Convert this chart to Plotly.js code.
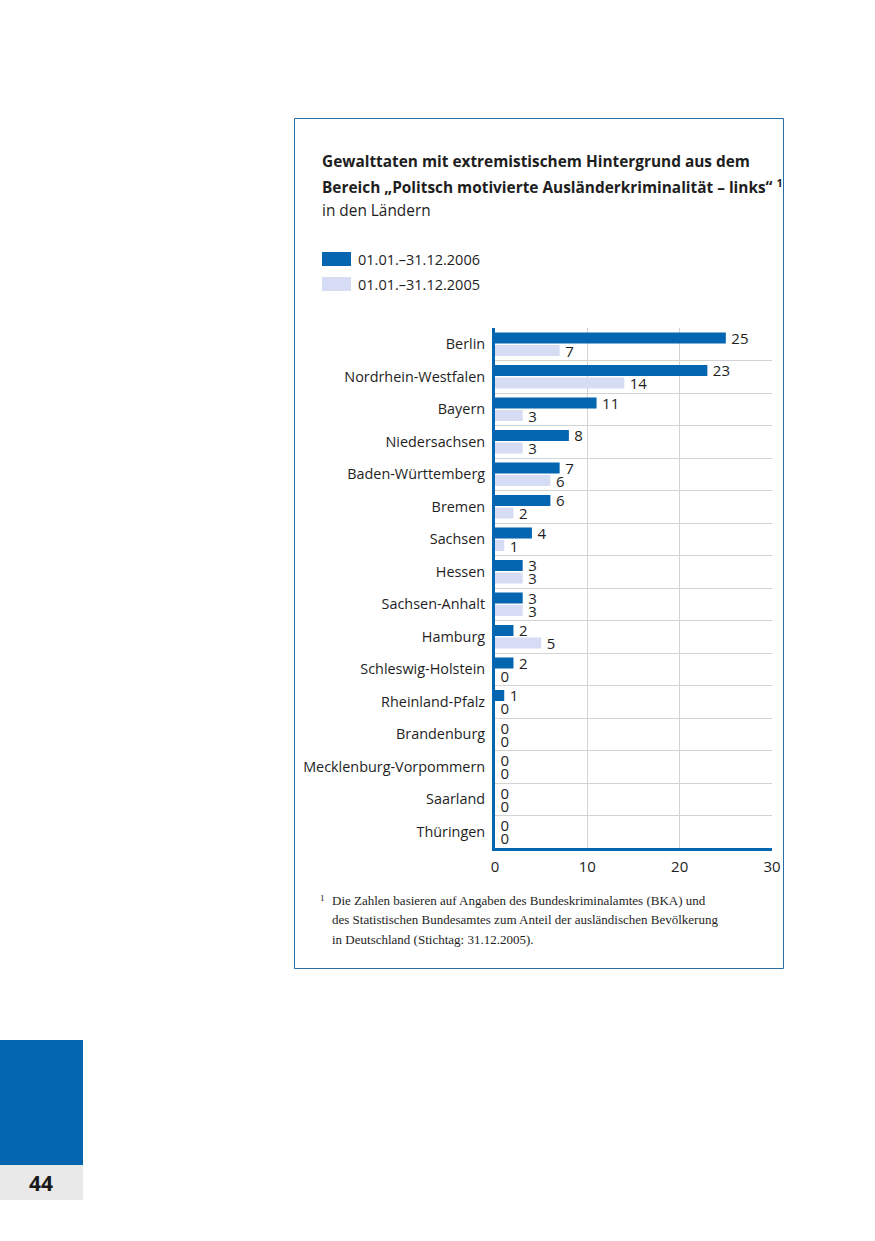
<!DOCTYPE html>
<html><head><meta charset="utf-8">
<script src="https://cdn.plot.ly/plotly-3.0.1.min.js"></script>
<style>html,body{margin:0;padding:0;background:#fff;}#chart{width:875px;height:1241px;}</style>
</head><body><div id="chart"></div>
<script>
const states = ["Berlin","Nordrhein-Westfalen","Bayern","Niedersachsen","Baden-Württemberg","Bremen","Sachsen","Hessen","Sachsen-Anhalt","Hamburg","Schleswig-Holstein","Rheinland-Pfalz","Brandenburg","Mecklenburg-Vorpommern","Saarland","Thüringen"];
const values2006 = [25,23,11,8,7,6,4,3,3,2,2,1,0,0,0,0];
const values2005 = [7,14,3,3,6,2,1,3,3,5,0,0,0,0,0,0];
const seriesNames = ["01.01.–31.12.2006","01.01.–31.12.2005"];
const xTicks = [0,10,20,30];
const titleLines = ["<b>Gewalttaten mit extremistischem Hintergrund aus dem</b>","<b>Bereich „Politsch motivierte Ausländerkriminalität – links“ <sup>1</sup></b>","in den Ländern"];
const footnoteLines = ["Die Zahlen basieren auf Angaben des Bundeskriminalamtes (BKA) und","des Statistischen Bundesamtes zum Anteil der ausländischen Bevölkerung","in Deutschland (Stichtag: 31.12.2005)."];
const pageNumber = "44";

const DARK = "#0465b0", LIGHT = "#d5dcf3", TXT = "#1e1e1e", FONT = "Open Sans, Noto Sans, sans-serif";
const W = 875, H = 1241, L = 495, R = 772, T = 328, B = 848;
const px = x => (x - L) / (R - L);
const py = y => (B - y) / (B - T);

const common = {type:"bar", orientation:"h", y: states, textposition:"outside", cliponaxis:false,
  constraintext:"none", textfont:{family:FONT, size:15, color:TXT}, hoverinfo:"skip"};
const traces = [
  Object.assign({}, common, {name:seriesNames[0], x:values2006, text:values2006.map(v => "\u2009" + v), marker:{color:DARK}}),
  Object.assign({}, common, {name:seriesNames[1], x:values2005, text:values2005.map(v => "\u2009" + v), marker:{color:LIGHT}})
];

const annotations = [];
const titleY = [161, 186, 211];
titleLines.forEach((t,i) => annotations.push({text:t, xref:"paper", yref:"paper", x:px(320), y:py(titleY[i]),
  xanchor:"left", yanchor:"middle", showarrow:false, font:{family:FONT, size:15.4, color:TXT}}));
const legY = [259, 284];
seriesNames.forEach((n,i) => annotations.push({text:n, xref:"paper", yref:"paper", x:px(356), y:py(legY[i]),
  xanchor:"left", yanchor:"middle", showarrow:false, font:{family:FONT, size:14.5, color:TXT}}));
annotations.push({text:"1", xref:"paper", yref:"paper", x:px(318), y:py(898), xanchor:"left", yanchor:"middle",
  showarrow:false, font:{family:"Liberation Serif, serif", size:9, color:TXT}});
const fnY = [900, 919, 939];
footnoteLines.forEach((t,i) => annotations.push({text:t, xref:"paper", yref:"paper", x:px(330), y:py(fnY[i]),
  xanchor:"left", yanchor:"middle", showarrow:false, font:{family:"Liberation Serif, serif", size:13, color:TXT}}));
annotations.push({text:"<b>"+pageNumber+"</b>", xref:"paper", yref:"paper", x:px(41), y:py(1183), xanchor:"center", yanchor:"middle",
  showarrow:false, font:{family:FONT, size:21, color:"#1a1a1a"}});

const shapes = [
  {type:"rect", xref:"paper", yref:"paper", x0:px(294.5), x1:px(783.5), y0:py(118.5), y1:py(968.5), line:{color:"#2a6ea8", width:1}, fillcolor:"rgba(0,0,0,0)", layer:"below"},
  {type:"rect", xref:"paper", yref:"paper", x0:px(322), x1:px(351), y0:py(252), y1:py(266), line:{width:0}, fillcolor:DARK},
  {type:"rect", xref:"paper", yref:"paper", x0:px(322), x1:px(351), y0:py(277), y1:py(291), line:{width:0}, fillcolor:LIGHT},
  {type:"rect", xref:"paper", yref:"paper", x0:px(0), x1:px(83), y0:py(1040), y1:py(1165), line:{width:0}, fillcolor:DARK},
  {type:"rect", xref:"paper", yref:"paper", x0:px(0), x1:px(83), y0:py(1165), y1:py(1200), line:{width:0}, fillcolor:"#e9e9e9"}
];

const layout = {
  width:W, height:H, margin:{l:L, r:W-R, t:T, b:H-B, pad:0},
  paper_bgcolor:"#fff", plot_bgcolor:"#fff", showlegend:false,
  barmode:"group", bargap:0.23, bargroupgap:0.12,
  font:{family:FONT, size:15, color:TXT},
  xaxis:{range:[0,30], tickvals:xTicks, showgrid:true, gridcolor:"#d3d3d3", gridwidth:1, zeroline:false,
    showline:true, linecolor:DARK, linewidth:3, ticks:"", ticklabelstandoff:3, tickfont:{family:FONT, size:15, color:TXT}, fixedrange:true},
  yaxis:{type:"category", categoryorder:"array", categoryarray:states, autorange:"reversed", tickson:"boundaries",
    showgrid:true, gridcolor:"#d3d3d3", gridwidth:1, zeroline:false, showline:true, linecolor:DARK, linewidth:3,
    ticks:"", ticklabelstandoff:4, tickfont:{family:FONT, size:14.4, color:TXT}, fixedrange:true},
  annotations, shapes
};
Plotly.newPlot("chart", traces, layout, {staticPlot:true, displayModeBar:false});
</script></body></html>
